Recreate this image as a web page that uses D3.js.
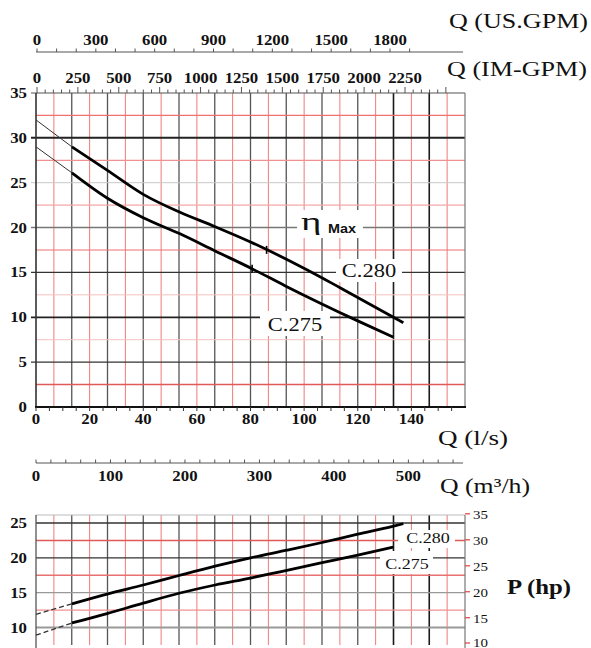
<!DOCTYPE html>
<html><head><meta charset="utf-8">
<script src="https://cdn.jsdelivr.net/npm/d3@7/dist/d3.min.js"></script>
<style>html,body{margin:0;padding:0;background:#fff}svg{display:block}</style>
</head><body>
<svg id="c" width="591" height="648"></svg>
<script>
// ---------- DATA ----------
// Head curves: flow (l/s) vs head (m); first segment is the thin extrapolation
const c280Q = [0, 13.4, 26.5, 40, 53.7, 66.8, 80, 101, 113.4, 137];
const c280H = [32.0, 29.0, 26.4, 23.7, 21.7, 20.1, 18.4, 15.3, 13.3, 9.4];
const c275Q = [0, 13.4, 26.5, 40, 53.7, 66.8, 80, 93, 120, 133.2];
const c275H = [29.0, 26.1, 23.3, 21.1, 19.3, 17.4, 15.5, 13.5, 9.6, 7.8];
// Power curves: flow (l/s) vs power (kW)
const p280Q = [0, 13.4, 26.5, 40, 53.7, 66.8, 80, 93.6, 106.7, 120, 133, 137];
const p280P = [11.9, 13.4, 14.8, 16.1, 17.5, 18.8, 20.0, 21.1, 22.2, 23.4, 24.5, 24.9];
const p275Q = [0, 13.4, 26.5, 40, 53.7, 66.8, 80, 91, 106.7, 120, 133.2];
const p275P = [8.9, 10.65, 12.0, 13.5, 14.95, 16.1, 17.1, 18.0, 19.3, 20.4, 21.55];
// eta max marks (l/s)
const etaQ = {c280: 86, c275: 80.6};
// tick labels
const usGpmTicks = [0, 300, 600, 900, 1200, 1500, 1800];
const imGpmTicks = [0, 250, 500, 750, 1000, 1250, 1500, 1750, 2000, 2250];
const lsTicks = [0, 20, 40, 60, 80, 100, 120, 140];
const headTicks = [0, 5, 10, 15, 20, 25, 30, 35];
const m3hTicks = [0, 100, 200, 300, 400, 500];
const kwTicks = [10, 15, 20, 25];
const hpTicks = [10, 15, 20, 25, 30, 35];

// ---------- SCALES ----------
const x = d3.scaleLinear().domain([0, 160]).range([36, 465]);
const yH = d3.scaleLinear().domain([0, 35]).range([407, 93]);
const xGpm = d3.scaleLinear().domain([0, 1800]).range([37, 390]);
const xIm = d3.scaleLinear().domain([0, 2250]).range([37, 405]);
const xM3 = d3.scaleLinear().domain([0, 576]).range([36, 465]);
const yKw = d3.scaleLinear().domain([10, 25]).range([627.5, 523]);
const yHp = v => yKw(v * 0.7457);

const svg = d3.select("#c");
const SERIF = "'Liberation Serif','Times New Roman',serif";

function txt(g, px, py, s, o = {}) {
  return g.append("text")
    .attr("transform", `translate(${px},${py}) scale(${o.sx || 1.2},1)`)
    .attr("text-anchor", o.anchor || "middle")
    .attr("font-family", o.family || SERIF)
    .attr("font-size", o.size || 14)
    .attr("font-weight", o.weight || "bold")
    .attr("fill", o.fill || "#111")
    .text(s);
}
function hline(g, x1, x2, yy, col, w) {
  g.append("line").attr("x1", x1).attr("x2", x2).attr("y1", yy).attr("y2", yy)
    .attr("stroke", col).attr("stroke-width", w);
}
function vline(g, xx, y1, y2, col, w) {
  g.append("line").attr("x1", xx).attr("x2", xx).attr("y1", y1).attr("y2", y2)
    .attr("stroke", col).attr("stroke-width", w);
}

// ---------- TOP AXES ----------
const gTop = svg.append("g");
hline(gTop, 36, 463, 52, "#555", 1);
d3.range(0, 2000, 100).forEach(v => vline(gTop, xGpm(v), 48.5, 52, "#555", 1));
usGpmTicks.forEach(v => txt(gTop, xGpm(v), 45, v));
d3.range(0, 2550, 50).forEach(v => vline(gTop, xIm(v), v % 250 === 0 ? 87 : 89.5, 93, "#555", 1));
imGpmTicks.forEach(v => txt(gTop, xIm(v), 83, v));
gTop.append("text").attr("x", 449).attr("y", 28).attr("font-family", SERIF).attr("font-size", 21)
  .attr("textLength", 139).attr("lengthAdjust", "spacingAndGlyphs").attr("fill", "#111").text("Q (US.GPM)");
gTop.append("text").attr("x", 447).attr("y", 76).attr("font-family", SERIF).attr("font-size", 21)
  .attr("textLength", 140).attr("lengthAdjust", "spacingAndGlyphs").attr("fill", "#111").text("Q (IM-GPM)");

// ---------- MAIN CHART GRID ----------
const gMain = svg.append("g");
const vStep = 20 / 3;
function vGrid(g, y1, y2) {
  d3.range(1, 24).forEach(i => {
    const xx = x(i * vStep);
    if (i % 2 === 0) {
      const dark = (i === 20 || i === 22);
      vline(g, xx, y1, y2, dark ? "#1a1a1a" : "#555", dark ? 1.6 : 1.3);
    } else {
      vline(g, xx, y1, y2, "#f07a7a", 1);
    }
  });
}
vGrid(gMain, 93, 407);
const hStyle = {
  2.5: ["#e05a5a", 1.6], 5: ["#333", 1.2], 7.5: ["#f6c0c0", 1], 10: ["#222", 1.8],
  12.5: ["#f6c0c0", 1], 15: ["#333", 1.3], 17.5: ["#f07070", 1.2], 20: ["#777", 1.5],
  22.5: ["#f4a8a8", 1.2], 25: ["#c8c8c8", 1], 27.5: ["#f09090", 1.3], 30: ["#222", 2],
  32.5: ["#f07070", 1.2]
};
Object.keys(hStyle).forEach(k => {
  const v = +k, st = hStyle[k];
  hline(gMain, v % 5 === 0 ? 31 : 36, 465, yH(v), st[0], st[1]);
});
hline(gMain, 31, 465, yH(35), "#555", 1.2);
vline(gMain, x(160), 93, 407, "#777", 1.2);
vline(gMain, x(0), 93, 408, "#333", 1.6);
hline(gMain, 35, 466, 407, "#111", 2);
d3.range(0, 160, 5).forEach(v => vline(gMain, x(v), 407, 411, "#333", 1));
lsTicks.forEach(v => txt(gMain, x(v), 424, v));
headTicks.forEach(v => txt(gMain, 27, yH(v) + 5, v, {anchor: "end"}));
gMain.append("text").attr("x", 438).attr("y", 445).attr("font-family", SERIF).attr("font-size", 21)
  .attr("textLength", 70).attr("lengthAdjust", "spacingAndGlyphs").attr("fill", "#111").text("Q (l/s)");

// label backgrounds (main)
[[297, 210, 66, 28], [336, 259, 66, 23], [260, 311, 70, 25]].forEach(r =>
  gMain.append("rect").attr("x", r[0]).attr("y", r[1]).attr("width", r[2]).attr("height", r[3]).attr("fill", "#fff"));

function drawCurve(g, qs, vs, ys, dashed) {
  const pts = qs.map((q, i) => [x(q), ys(vs[i])]);
  g.append("path").attr("d", d3.line()(pts.slice(0, 2))).attr("fill", "none")
    .attr("stroke", "#333").attr("stroke-width", dashed ? 1.3 : 1)
    .attr("stroke-dasharray", dashed ? "5,3" : null);
  g.append("path").attr("d", d3.line().curve(d3.curveMonotoneX)(pts.slice(1))).attr("fill", "none")
    .attr("stroke", "#000").attr("stroke-width", 2.8);
}
drawCurve(gMain, c280Q, c280H, yH, false);
drawCurve(gMain, c275Q, c275H, yH, false);
function interp(qs, vs, q) { return d3.scaleLinear().domain(qs).range(vs)(q); }
[[c280Q, c280H, etaQ.c280], [c275Q, c275H, etaQ.c275]].forEach(([qs, vs, q]) => {
  const yy = yH(interp(qs, vs, q));
  vline(gMain, x(q), yy - 4, yy + 4, "#000", 1.6);
});
txt(gMain, 301, 230, "η", {anchor: "start", size: 26, weight: "normal", sx: 1.5});
txt(gMain, 328, 233, "Max", {anchor: "start", size: 12, weight: "bold", sx: 1.2, family: "'Liberation Sans',Arial,sans-serif"});
txt(gMain, 369, 277, "C.280", {size: 18, weight: "normal", sx: 1.25});
txt(gMain, 295, 331, "C.275", {size: 18, weight: "normal", sx: 1.25});

// ---------- BOTTOM CHART ----------
const gBot = svg.append("g");
hline(gBot, 36, 463, 463, "#555", 1);
d3.range(0, 580, 20).forEach(v => vline(gBot, xM3(v), 459.5, 463, "#555", 1));
m3hTicks.forEach(v => txt(gBot, xM3(v), 481, v));
gBot.append("text").attr("x", 440).attr("y", 493).attr("font-family", SERIF).attr("font-size", 21)
  .attr("textLength", 90).attr("lengthAdjust", "spacingAndGlyphs").attr("fill", "#111").text("Q (m³/h)");

vGrid(gBot, 515, 645);
const bStyle = {
  10: ["#999", 2], 12.5: ["#f09090", 1.3], 15: ["#999", 1.3], 17.5: ["#e87070", 1.3],
  20: ["#333", 1.3], 22.5: ["#e05a5a", 1.5], 25: ["#333", 1.3]
};
Object.keys(bStyle).forEach(k => {
  const st = bStyle[k];
  hline(gBot, 36, 465, yKw(+k), st[0], st[1]);
});
hline(gBot, 36, 465, 515, "#bbb", 1);
vline(gBot, x(0), 515, 648, "#555", 1.3);
vline(gBot, x(160), 515, 648, "#777", 1.2);
kwTicks.forEach(v => txt(gBot, 27, yKw(v) + 5, v, {anchor: "end"}));
hpTicks.forEach(v => {
  hline(gBot, 465, 470, Math.min(yHp(v) - 1.5, 643), "#e04040", 1.2);
  txt(gBot, 473, Math.min(yHp(v) + 3.5, 646.5), v, {anchor: "start", weight: "normal", size: 13, sx: 1.15});
});
gBot.append("text").attr("x", 507).attr("y", 594).attr("font-family", SERIF).attr("font-size", 21)
  .attr("font-weight", "bold").attr("textLength", 64).attr("lengthAdjust", "spacingAndGlyphs")
  .attr("fill", "#111").text("P (hp)");

[[398, 530, 57, 18], [380, 551, 53, 23]].forEach(r =>
  gBot.append("rect").attr("x", r[0]).attr("y", r[1]).attr("width", r[2]).attr("height", r[3]).attr("fill", "#fff"));
drawCurve(gBot, p280Q, p280P, yKw, true);
drawCurve(gBot, p275Q, p275P, yKw, true);
txt(gBot, 428, 543, "C.280", {size: 15, weight: "normal", sx: 1.2});
txt(gBot, 407, 569, "C.275", {size: 15, weight: "normal", sx: 1.2});
</script>
</body></html>
